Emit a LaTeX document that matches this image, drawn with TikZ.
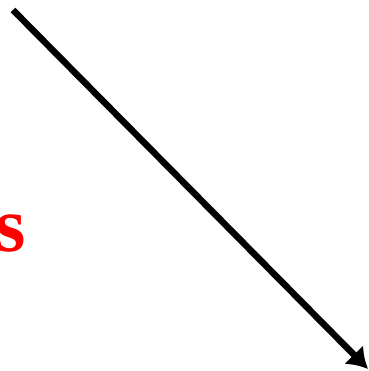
\documentclass[tikz,border=0pt]{standalone}
\usepackage{fontspec}
\setmainfont{Liberation Serif}
\usetikzlibrary{arrows.meta}
\begin{document}
\begin{tikzpicture}[x=1pt,y=-1pt]
\useasboundingbox (0,0) rectangle (368,371);
\clip (0,0) rectangle (368,371);

\coordinate (start) at (13,10);
\coordinate (tip) at (368,369);
\draw[line width=6.5pt,-{Latex[length=20pt,width=27pt]}] (start) -- (tip);

\node[anchor=base west, inner sep=0pt, text=red] (lettre) at (-5,251) {\fontsize{78}{78}\selectfont\bfseries s};

\end{tikzpicture}
\end{document}
